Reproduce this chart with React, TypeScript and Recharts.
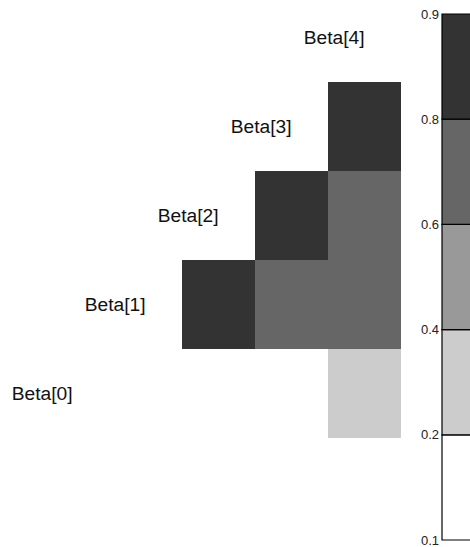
import { Bar, BarChart, Scatter, ScatterChart, XAxis, YAxis } from "recharts";

// Variáveis do modelo e correlações (triângulo superior, linha i x colunas i+1..4)
const VARIABLES = ["Beta[0]", "Beta[1]", "Beta[2]", "Beta[3]", "Beta[4]"];
const CORR_BETA0 = [0.12, 0.15, 0.17, 0.31];
const CORR_BETA1 = [0.86, 0.71, 0.68];
const CORR_BETA2 = [0.85, 0.73];
const CORR_BETA3 = [0.87];
const CORR_ROWS = [CORR_BETA0, CORR_BETA1, CORR_BETA2, CORR_BETA3];

// Escala de cores discreta
const COLOR_BOUNDS = [0.1, 0.2, 0.4, 0.6, 0.8, 0.9];
const COLOR_FILLS = ["#ffffff", "#cccccc", "#999999", "#666666", "#333333"];

const FONT = '"Liberation Sans", Arial, sans-serif';
const W = 470;
const H = 547;
const CELL_W = 73;
const CELL_H = 89;
const GRID_LEFT = 36;
const PLOT_BOTTOM = 438;
const Y_MAX = -0.5 + PLOT_BOTTOM / CELL_H;

const cells = CORR_ROWS.flatMap((row, i) =>
  row.map((value, k) => ({ x: i + k + 1, y: i, value })),
);
const labels = VARIABLES.map((name, k) => ({ x: k, y: k, name }));
const colorbarRow = [
  COLOR_FILLS.reduce<Record<string, number>>((acc, _c, i) => {
    acc[`b${i}`] = 1;
    return acc;
  }, { name: 0 }),
];

function fillFor(value: number) {
  for (let i = COLOR_BOUNDS.length - 2; i >= 0; i--) {
    if (value >= COLOR_BOUNDS[i]) return COLOR_FILLS[i];
  }
  return COLOR_FILLS[0];
}

const CellShape = (props: any) => {
  const { cx, cy, payload } = props;
  return (
    <rect
      x={cx - CELL_W / 2}
      y={cy - CELL_H / 2}
      width={CELL_W}
      height={CELL_H}
      fill={fillFor(payload.value)}
      shapeRendering="crispEdges"
    />
  );
};

const LabelShape = (props: any) => {
  const { cx, cy, payload } = props;
  return (
    <text x={cx} y={cy} dy="0.33em" textAnchor="end" fontSize={19.2} fontFamily={FONT} fill="#111">
      {payload.name}
    </text>
  );
};

export default function App() {
  return (
    <div style={{ position: "absolute", top: 0, left: 0, width: W, height: H, overflow: "hidden", background: "#fff" }}>
      <div style={{ position: "absolute", top: 0, left: 0 }}>
        <ScatterChart
          width={W}
          height={H}
          margin={{ top: 0, right: W - GRID_LEFT - 5 * CELL_W, bottom: H - PLOT_BOTTOM, left: GRID_LEFT }}
        >
          <XAxis type="number" dataKey="x" domain={[-0.5, 4.5]} hide />
          <YAxis type="number" dataKey="y" domain={[-0.5, Y_MAX]} hide />
          <Scatter data={cells} shape={CellShape} isAnimationActive={false} />
          <Scatter data={labels} shape={LabelShape} isAnimationActive={false} />
        </ScatterChart>
      </div>
      <div style={{ position: "absolute", top: 0, left: 400 }}>
        <BarChart
          width={110}
          height={H}
          data={colorbarRow}
          margin={{ top: 14, right: 0, bottom: 7, left: 0 }}
          barCategoryGap={0}
        >
          <XAxis dataKey="name" hide />
          <YAxis
            type="number"
            domain={[0, COLOR_FILLS.length]}
            ticks={COLOR_BOUNDS.map((_b, i) => i)}
            tickFormatter={(i: number) => String(COLOR_BOUNDS[i])}
            width={42}
            axisLine={false}
            tickLine={false}
            tickSize={3}
            tickMargin={0}
            tick={{ fontSize: 13, fill: "#222", fontFamily: FONT }}
            interval={0}
          />
          {COLOR_FILLS.map((c, i) => (
            <Bar key={c} dataKey={`b${i}`} stackId="cb" fill={c} stroke="#000" strokeWidth={1.2} isAnimationActive={false} />
          ))}
        </BarChart>
      </div>
    </div>
  );
}
